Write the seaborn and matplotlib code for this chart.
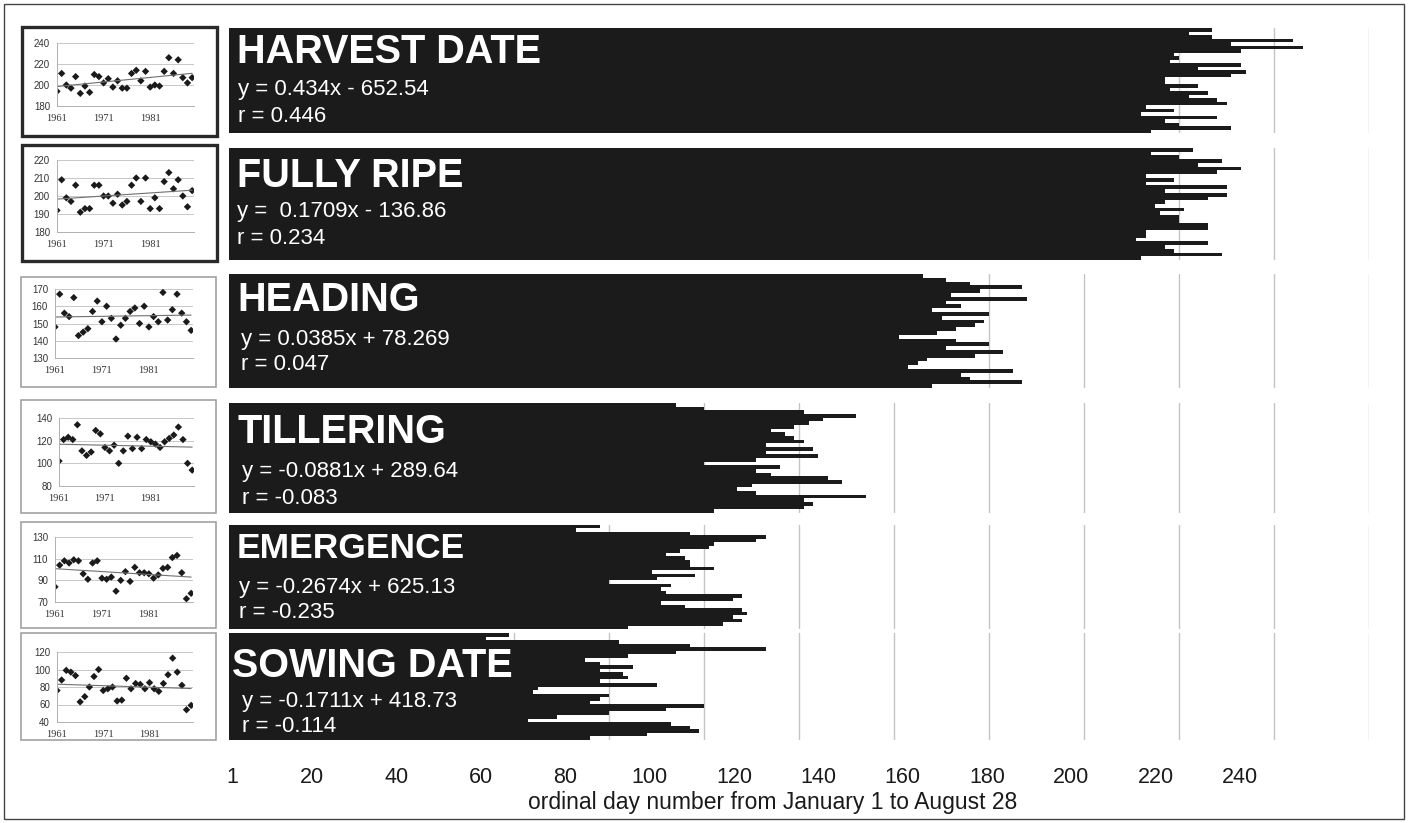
import numpy as np
import pandas as pd
import matplotlib
matplotlib.use("Agg")
import matplotlib.pyplot as plt
import seaborn as sns
from matplotlib.patches import Rectangle

# ---- data: ordinal day of each wheat phenophase, 1961-1990 ----
years = list(range(1961, 1991))

harvest_date = [194, 211, 200, 197, 208, 192, 199, 193, 210, 208,
                202, 206, 198, 204, 197, 197, 211, 214, 204, 213,
                198, 200, 199, 213, 226, 211, 224, 207, 202, 207]
fully_ripe = [192, 209, 199, 197, 206, 191, 193, 193, 206, 206,
              200, 200, 196, 201, 195, 197, 206, 210, 197, 210,
              193, 199, 193, 208, 213, 204, 209, 200, 194, 203]
heading = [148, 167, 156, 154, 165, 143, 145, 147, 157, 163,
           151, 160, 153, 141, 149, 153, 157, 159, 150, 160,
           148, 154, 151, 168, 152, 158, 167, 156, 151, 146]
tillering = [102, 121, 123, 121, 134, 111, 107, 110, 129, 126,
             114, 111, 116, 100, 111, 124, 113, 123, 113, 121,
             119, 117, 114, 119, 122, 125, 132, 121, 100, 94]
emergence = [84, 104, 108, 106, 109, 108, 96, 91, 106, 108,
             92, 91, 93, 80, 90, 98, 89, 102, 97, 97,
             96, 92, 95, 101, 102, 111, 113, 97, 73, 78]
sowing_date = [76, 88, 99, 97, 93, 63, 69, 80, 92, 100,
               76, 78, 80, 64, 65, 90, 78, 84, 83, 78,
               85, 78, 75, 84, 94, 113, 97, 82, 54, 59]

stage_names = ["HARVEST DATE", "FULLY RIPE", "HEADING",
               "TILLERING", "EMERGENCE", "SOWING DATE"]
stage_values = [harvest_date, fully_ripe, heading,
                tillering, emergence, sowing_date]
trend_slope = [0.434, 0.1709, 0.0385, -0.0881, -0.2674, -0.1711]
trend_intercept = [-652.54, -136.86, 78.269, 289.64, 625.13, 418.73]
equation_labels = ["y = 0.434x - 652.54", "y =  0.1709x - 136.86",
                   "y = 0.0385x + 78.269", "y = -0.0881x + 289.64",
                   "y = -0.2674x + 625.13", "y = -0.1711x + 418.73"]
r_labels = ["r = 0.446", "r = 0.234", "r = 0.047",
            "r = -0.083", "r = -0.235", "r = -0.114"]
inset_ticks = [[180, 200, 220, 240], [180, 190, 200, 210, 220],
               [130, 140, 150, 160, 170], [80, 100, 120, 140],
               [70, 90, 110, 130], [40, 60, 80, 100, 120]]
year_ticks = [1961, 1971, 1981]
day_ticks = [1, 20, 40, 60, 80, 100, 120, 140, 160, 180, 200, 220, 240]
x_title = "ordinal day number from January 1 to August 28"

# ---- layout (pixels) ----
W, H = 1408, 823
BAR_COLOR = "#1b1b1b"
GRID_COLOR = "#c4c4c4"


def rect(l, t, r, b):
    return [l / W, 1 - b / H, (r - l) / W, (b - t) / H]


def fx(x):
    return x / W


def fy(y):
    return 1 - y / H


sns.set_style("white")
plt.rcParams["font.family"] = ["Liberation Sans", "DejaVu Sans"]

fig = plt.figure(figsize=(W / 100, H / 100), dpi=100)
fig.patch.set_facecolor("white")

# outer frame
fig.patches.append(Rectangle((fx(4), fy(819)), fx(1400), 815 / H,
                             transform=fig.transFigure, fill=False,
                             edgecolor="#444444", lw=1.0))

bar_rows = [(28, 133), (148, 260), (274, 388), (403, 513), (525, 629), (633, 740)]
bar_left, bar_right = 229, 1369

inset_boxes = [(22, 27, 217, 136), (22, 145, 217, 261), (21, 277, 216, 387),
               (21, 400, 216, 513), (21, 522, 216, 628), (21, 633, 216, 740)]
inset_plots = [(57, 43, 194, 106), (57, 160, 194, 232), (55, 289, 193, 358),
               (59, 418, 194, 486), (55, 537, 193, 602), (57, 652, 193, 722)]
box_style = [("#2a2a2a", 2.4), ("#2a2a2a", 2.4), ("#9a9a9a", 1.1),
             ("#9a9a9a", 1.1), ("#9a9a9a", 1.1), ("#9a9a9a", 1.1)]

title_y = [52, 176, 300, 432, 549, 666]
eq_y = [90, 212, 339, 472, 588, 702]
r_y = [116, 238, 365, 498, 613, 727]
title_x = [237, 237, 237, 237, 237, 232]
eq_x = [238, 237, 241, 242, 239, 242]
title_size = [28.5, 28.5, 28.5, 28.5, 25.5, 28.5]

for i in range(6):
    top, bottom = bar_rows[i]
    df = pd.DataFrame({"year": [str(y) for y in years], "day": stage_values[i]})
    order = [str(y) for y in years[::-1]]

    # main horizontal bar panel, latest year on top
    ax = fig.add_axes(rect(bar_left, top, bar_right, bottom))
    sns.barplot(data=df, x="day", y="year", order=order, orient="h",
                color=BAR_COLOR, saturation=1, width=1.0, linewidth=0,
                ax=ax)
    ax.set_xlim(0, 240)
    ax.set_ylim(len(years) - 0.5, -0.5)
    ax.set_xticks(range(20, 241, 20))
    ax.grid(axis="x", color=GRID_COLOR, lw=1.0)
    ax.grid(axis="y", visible=False)
    ax.set_axisbelow(True)
    ax.tick_params(left=False, bottom=False, labelleft=False, labelbottom=False)
    ax.set_xlabel("")
    ax.set_ylabel("")
    for s in ax.spines.values():
        s.set_visible(False)

    fig.text(fx(title_x[i]), fy(title_y[i]), stage_names[i], color="white",
             fontsize=title_size[i], fontweight="bold", va="center", ha="left")
    fig.text(fx(eq_x[i]), fy(eq_y[i]), equation_labels[i], color="white",
             fontsize=16, va="center", ha="left")
    fig.text(fx(eq_x[i]), fy(r_y[i]), r_labels[i], color="white",
             fontsize=16, va="center", ha="left")

    # inset scatter with linear trend
    l, t, r, b = inset_boxes[i]
    ec, lw = box_style[i]
    fig.patches.append(Rectangle((fx(l), fy(b)), (r - l) / W, (b - t) / H,
                                 transform=fig.transFigure, fill=False,
                                 edgecolor=ec, lw=lw))
    iax = fig.add_axes(rect(*inset_plots[i]))
    sns.scatterplot(x=years, y=stage_values[i], ax=iax, color="#1a1a1a",
                    s=14, marker="D", edgecolor="none")
    yr = np.array([years[0], years[-1]])
    iax.plot(yr, trend_slope[i] * yr + trend_intercept[i],
             color="#707070", lw=0.8)
    ticks = inset_ticks[i]
    iax.set_ylim(ticks[0], ticks[-1])
    iax.set_yticks(ticks)
    iax.set_xlim(1961, 1990.4)
    iax.set_xticks(year_ticks)
    iax.grid(axis="y", color="#c8c8c8", lw=0.7)
    iax.grid(axis="x", visible=False)
    iax.set_axisbelow(True)
    for s in ("top", "right"):
        iax.spines[s].set_visible(False)
    for s in ("left", "bottom"):
        iax.spines[s].set_color("#b0b0b0")
        iax.spines[s].set_linewidth(0.7)
    iax.tick_params(axis="y", length=0, pad=5, labelsize=7, colors="#333333")
    iax.tick_params(axis="x", length=0, pad=6, labelsize=7.5, colors="#333333")
    for lab in iax.get_xticklabels():
        lab.set_family("Liberation Serif")
    iax.set_xlabel("")
    iax.set_ylabel("")
    iax.patch.set_alpha(0)

# day-number scale under the panels
dax = fig.add_axes(rect(232, 742, 1240, 752))
dax.set_xlim(1, 240)
dax.set_ylim(0, 1)
dax.set_xticks(day_ticks)
dax.set_xticklabels([str(d) for d in day_ticks])
dax.set_yticks([])
dax.tick_params(axis="x", length=0, pad=11, labelsize=15.5, colors="#1a1a1a")
for s in dax.spines.values():
    s.set_visible(False)
dax.patch.set_alpha(0)
fig.text(fx(773), fy(802), x_title, fontsize=16.5, color="#1a1a1a",
         ha="center", va="center")

fig.savefig("out.png", dpi=100, facecolor="white")
